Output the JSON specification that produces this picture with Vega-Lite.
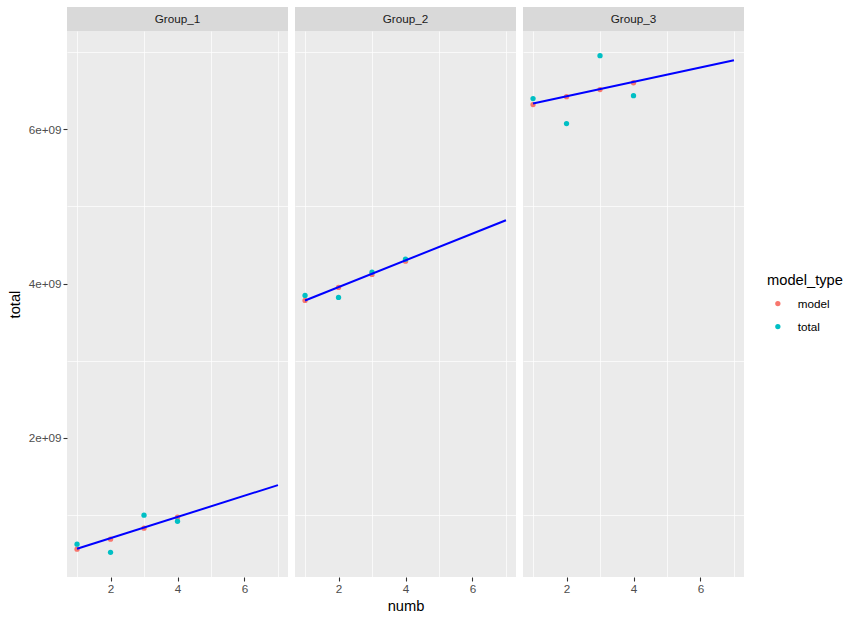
{
  "$schema": "https://vega.github.io/schema/vega-lite/v6.json",
  "padding": {"left": 7, "top": 7, "right": 5, "bottom": 5},
  "background": "white",
  "datasets": {
    "pts": [
      {"group": "Group_1", "numb": 1, "model_type": "model", "value": 560000000},
      {"group": "Group_1", "numb": 2, "model_type": "model", "value": 690000000},
      {"group": "Group_1", "numb": 3, "model_type": "model", "value": 832000000},
      {"group": "Group_1", "numb": 4, "model_type": "model", "value": 974000000},
      {"group": "Group_1", "numb": 1, "model_type": "total", "value": 625000000},
      {"group": "Group_1", "numb": 2, "model_type": "total", "value": 520000000},
      {"group": "Group_1", "numb": 3, "model_type": "total", "value": 1000000000},
      {"group": "Group_1", "numb": 4, "model_type": "total", "value": 922000000},
      {"group": "Group_2", "numb": 1, "model_type": "model", "value": 3781000000},
      {"group": "Group_2", "numb": 2, "model_type": "model", "value": 3950000000},
      {"group": "Group_2", "numb": 3, "model_type": "model", "value": 4118000000},
      {"group": "Group_2", "numb": 4, "model_type": "model", "value": 4290000000},
      {"group": "Group_2", "numb": 1, "model_type": "total", "value": 3846000000},
      {"group": "Group_2", "numb": 2, "model_type": "total", "value": 3820000000},
      {"group": "Group_2", "numb": 3, "model_type": "total", "value": 4147000000},
      {"group": "Group_2", "numb": 4, "model_type": "total", "value": 4315000000},
      {"group": "Group_3", "numb": 1, "model_type": "model", "value": 6317000000},
      {"group": "Group_3", "numb": 2, "model_type": "model", "value": 6420000000},
      {"group": "Group_3", "numb": 3, "model_type": "model", "value": 6511000000},
      {"group": "Group_3", "numb": 4, "model_type": "model", "value": 6600000000},
      {"group": "Group_3", "numb": 1, "model_type": "total", "value": 6395000000},
      {"group": "Group_3", "numb": 2, "model_type": "total", "value": 6071000000},
      {"group": "Group_3", "numb": 3, "model_type": "total", "value": 6951000000},
      {"group": "Group_3", "numb": 4, "model_type": "total", "value": 6433000000}
    ],
    "fit": [
      {"group": "Group_1", "numb": 1, "value": 565000000},
      {"group": "Group_1", "numb": 7, "value": 1390000000},
      {"group": "Group_2", "numb": 1, "value": 3780000000},
      {"group": "Group_2", "numb": 7, "value": 4820000000},
      {"group": "Group_3", "numb": 1, "value": 6330000000},
      {"group": "Group_3", "numb": 7, "value": 6890000000}
    ]
  },
  "config": {
    "font": "Liberation Sans",
    "view": {"stroke": null},
    "concat": {"spacing": 7},
    "axis": {
      "domain": false,
      "gridColor": "#FFFFFF",
      "tickColor": "#333333",
      "tickSize": 4,
      "tickWidth": 1.1,
      "labelColor": "#4D4D4D",
      "labelFontSize": 11.7,
      "labelPadding": 2,
      "labelOverlap": false,
      "labelBound": false,
      "labelFlush": false,
      "titleColor": "#000000",
      "titleFontSize": 14.7,
      "titleFontWeight": "normal"
    },
    "legend": {
      "orient": "none",
      "legendX": 700,
      "legendY": 266,
      "titleFontSize": 14.7,
      "titleFontWeight": "normal",
      "titleColor": "#000000",
      "titlePadding": 10,
      "labelFontSize": 11.7,
      "labelColor": "#000000",
      "symbolType": "circle",
      "symbolSize": 28,
      "symbolOffset": 5,
      "labelOffset": 14,
      "rowPadding": 10
    }
  },
  "resolve": {"scale": {"color": "shared"}, "legend": {"color": "shared"}},
  "hconcat": [
    {
      "spacing": 0,
      "vconcat": [
        {
          "width": 221, "height": 24,
          "view": {"fill": "#D9D9D9", "stroke": null},
          "data": {"values": [{"g": "Group_1"}]},
          "mark": {"type": "text", "fontSize": 11.7, "color": "#1A1A1A"},
          "encoding": {"text": {"field": "g", "type": "nominal"}}
        },
        {
          "width": 221, "height": 546,
          "view": {"fill": "#EBEBEB", "stroke": null},
          "resolve": {"axis": {"x": "independent", "y": "independent"}},
          "layer": [
            {
              "data": {"name": "fit"},
              "transform": [{"filter": "datum.group === 'Group_1'"}],
              "mark": {"type": "line", "color": "#0000FF", "strokeWidth": 0, "opacity": 0},
              "encoding": {
                "x": {"field": "numb", "type": "quantitative", "scale": {"domain": [0.7, 7.3], "nice": false, "zero": false},
                  "axis": {"orient": "bottom", "values": [1, 3, 5, 7], "labels": false, "ticks": false, "title": null, "gridWidth": 0.7}},
                "y": {"field": "value", "type": "quantitative", "scale": {"domain": [200000000, 7270000000], "nice": false, "zero": false},
                  "axis": {"orient": "left", "values": [1000000000, 3000000000, 5000000000, 7000000000], "labels": false, "ticks": false, "title": null, "gridWidth": 0.7}}
              }
            },
            {
              "data": {"name": "pts"},
              "transform": [{"filter": "datum.group === 'Group_1'"}],
              "mark": {"type": "circle", "size": 28, "opacity": 1},
              "encoding": {
                "x": {"field": "numb", "type": "quantitative",
                  "axis": {"orient": "bottom", "values": [2, 4, 6], "gridWidth": 1.4, "labelFontSize": 11.7, "title": null}},
                "y": {"field": "value", "type": "quantitative",
                  "axis": {"orient": "left", "values": [2000000000, 4000000000, 6000000000], "gridWidth": 1.4, "labelFontSize": 11.7,
                    "labelExpr": "round(datum.value / 1000000000) + 'e+09'",
                    "title": "total", "titlePadding": 6}},
                "color": {"field": "model_type", "type": "nominal", "scale": {"domain": ["model", "total"], "range": ["#F8766D", "#00BFC4"]}, "legend": {"title": "model_type"}}
              }
            },
            {
              "data": {"name": "fit"},
              "transform": [{"filter": "datum.group === 'Group_1'"}],
              "mark": {"type": "line", "color": "#0000FF", "strokeWidth": 2},
              "encoding": {
                "x": {"field": "numb", "type": "quantitative", "axis": null},
                "y": {"field": "value", "type": "quantitative", "axis": null}
              }
            }
          ]
        }
      ]
    },
    {
      "spacing": 0,
      "vconcat": [
        {
          "width": 221, "height": 24,
          "view": {"fill": "#D9D9D9", "stroke": null},
          "data": {"values": [{"g": "Group_2"}]},
          "mark": {"type": "text", "fontSize": 11.7, "color": "#1A1A1A"},
          "encoding": {"text": {"field": "g", "type": "nominal"}}
        },
        {
          "width": 221, "height": 546,
          "view": {"fill": "#EBEBEB", "stroke": null},
          "resolve": {"axis": {"x": "independent", "y": "independent"}},
          "layer": [
            {
              "data": {"name": "fit"},
              "transform": [{"filter": "datum.group === 'Group_2'"}],
              "mark": {"type": "line", "color": "#0000FF", "strokeWidth": 0, "opacity": 0},
              "encoding": {
                "x": {"field": "numb", "type": "quantitative", "scale": {"domain": [0.7, 7.3], "nice": false, "zero": false},
                  "axis": {"orient": "bottom", "values": [1, 3, 5, 7], "labels": false, "ticks": false, "title": null, "gridWidth": 0.7}},
                "y": {"field": "value", "type": "quantitative", "scale": {"domain": [200000000, 7270000000], "nice": false, "zero": false},
                  "axis": {"orient": "left", "values": [1000000000, 3000000000, 5000000000, 7000000000], "labels": false, "ticks": false, "title": null, "gridWidth": 0.7}}
              }
            },
            {
              "data": {"name": "pts"},
              "transform": [{"filter": "datum.group === 'Group_2'"}],
              "mark": {"type": "circle", "size": 28, "opacity": 1},
              "encoding": {
                "x": {"field": "numb", "type": "quantitative",
                  "axis": {"orient": "bottom", "values": [2, 4, 6], "gridWidth": 1.4, "labelFontSize": 11.7, "title": "numb", "titlePadding": 4}},
                "y": {"field": "value", "type": "quantitative",
                  "axis": {"orient": "left", "values": [2000000000, 4000000000, 6000000000], "gridWidth": 1.4, "labels": false, "ticks": false, "title": null}},
                "color": {"field": "model_type", "type": "nominal", "scale": {"domain": ["model", "total"], "range": ["#F8766D", "#00BFC4"]}, "legend": {"title": "model_type"}}
              }
            },
            {
              "data": {"name": "fit"},
              "transform": [{"filter": "datum.group === 'Group_2'"}],
              "mark": {"type": "line", "color": "#0000FF", "strokeWidth": 2},
              "encoding": {
                "x": {"field": "numb", "type": "quantitative", "axis": null},
                "y": {"field": "value", "type": "quantitative", "axis": null}
              }
            }
          ]
        }
      ]
    },
    {
      "spacing": 0,
      "vconcat": [
        {
          "width": 221, "height": 24,
          "view": {"fill": "#D9D9D9", "stroke": null},
          "data": {"values": [{"g": "Group_3"}]},
          "mark": {"type": "text", "fontSize": 11.7, "color": "#1A1A1A"},
          "encoding": {"text": {"field": "g", "type": "nominal"}}
        },
        {
          "width": 221, "height": 546,
          "view": {"fill": "#EBEBEB", "stroke": null},
          "resolve": {"axis": {"x": "independent", "y": "independent"}},
          "layer": [
            {
              "data": {"name": "fit"},
              "transform": [{"filter": "datum.group === 'Group_3'"}],
              "mark": {"type": "line", "color": "#0000FF", "strokeWidth": 0, "opacity": 0},
              "encoding": {
                "x": {"field": "numb", "type": "quantitative", "scale": {"domain": [0.7, 7.3], "nice": false, "zero": false},
                  "axis": {"orient": "bottom", "values": [1, 3, 5, 7], "labels": false, "ticks": false, "title": null, "gridWidth": 0.7}},
                "y": {"field": "value", "type": "quantitative", "scale": {"domain": [200000000, 7270000000], "nice": false, "zero": false},
                  "axis": {"orient": "left", "values": [1000000000, 3000000000, 5000000000, 7000000000], "labels": false, "ticks": false, "title": null, "gridWidth": 0.7}}
              }
            },
            {
              "data": {"name": "pts"},
              "transform": [{"filter": "datum.group === 'Group_3'"}],
              "mark": {"type": "circle", "size": 28, "opacity": 1},
              "encoding": {
                "x": {"field": "numb", "type": "quantitative",
                  "axis": {"orient": "bottom", "values": [2, 4, 6], "gridWidth": 1.4, "labelFontSize": 11.7, "title": null}},
                "y": {"field": "value", "type": "quantitative",
                  "axis": {"orient": "left", "values": [2000000000, 4000000000, 6000000000], "gridWidth": 1.4, "labels": false, "ticks": false, "title": null}},
                "color": {"field": "model_type", "type": "nominal", "scale": {"domain": ["model", "total"], "range": ["#F8766D", "#00BFC4"]}, "legend": {"title": "model_type"}}
              }
            },
            {
              "data": {"name": "fit"},
              "transform": [{"filter": "datum.group === 'Group_3'"}],
              "mark": {"type": "line", "color": "#0000FF", "strokeWidth": 2},
              "encoding": {
                "x": {"field": "numb", "type": "quantitative", "axis": null},
                "y": {"field": "value", "type": "quantitative", "axis": null}
              }
            }
          ]
        }
      ]
    }
  ]
}
